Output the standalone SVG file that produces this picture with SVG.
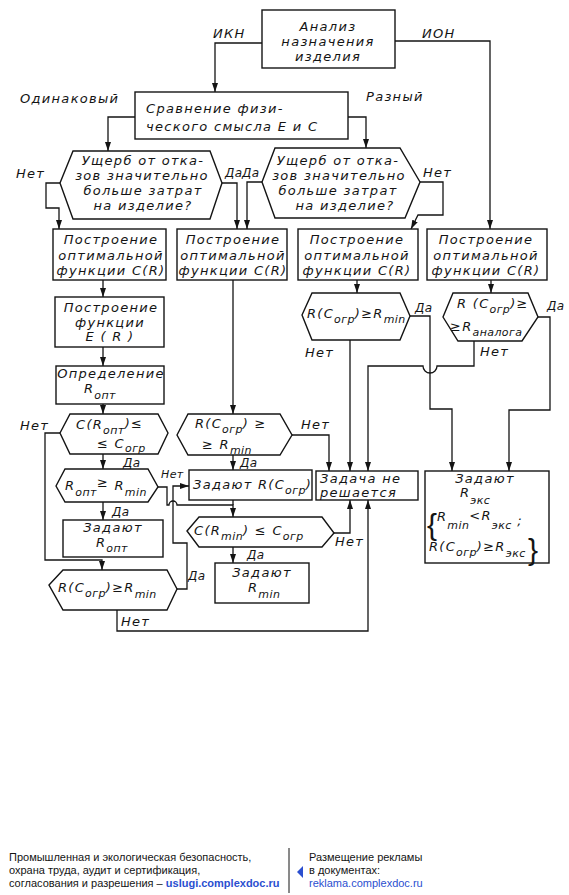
<svg xmlns="http://www.w3.org/2000/svg" width="569" height="895" viewBox="0 0 569 895">
<defs>
<marker id="a" markerWidth="9" markerHeight="6" refX="9" refY="3" orient="auto" markerUnits="userSpaceOnUse"><path d="M0,0 L9,3 L0,6 z" fill="#141414"/></marker>
<style>
.n rect,.n polygon{fill:none;stroke:#141414;stroke-width:1.4}
.c path{fill:none;stroke:#141414;stroke-width:1.3}
.arr{marker-end:url(#a)}
text{font-family:"DejaVu Sans",sans-serif;font-style:italic;font-size:13px;letter-spacing:1.3px;fill:#141414}
.m{text-anchor:middle}
.s{font-size:11px;letter-spacing:0.4px}
.l{font-size:12px;letter-spacing:0.3px}
.br{font-family:"Liberation Sans",Arial,sans-serif;font-style:normal;font-size:30px;letter-spacing:0}
.f{font-family:"Liberation Sans",Arial,sans-serif;font-style:normal;font-size:11px;letter-spacing:0}
.b{font-weight:bold}
.u{fill:#2b4fd0}
</style>
</defs>
<rect width="569" height="895" fill="#fff"/>

<g class="c">
<path class="arr" d="M262,43 H215 V92"/>
<path class="arr" d="M395,41 H490 V229"/>
<path class="arr" d="M135,117 H108 V151"/>
<path class="arr" d="M348,117 H366 V148"/>
<path class="arr" d="M60,183 H46 V208 H59 V229"/>
<path class="arr" d="M222,183 H237 V229"/>
<path class="arr" d="M262,182 H247 V229"/>
<path class="arr" d="M420,182 H443 V215 H418 L411,229"/>
<path class="arr" d="M103,280 V297"/>
<path class="arr" d="M103,347 V366"/>
<path class="arr" d="M103,404 V414"/>
<path class="arr" d="M233,280 V414"/>
<path class="arr" d="M357,280 V293"/>
<path class="arr" d="M491,280 V293"/>
<path class="arr" d="M60,433 H45 V560 H102 V570"/>
<path class="arr" d="M103,454 V469"/>
<path class="arr" d="M103,502 V520"/>
<path class="arr" d="M158,487 H167 V505 H169 A4,4 0 0 1 177,505 H233 V517"/>
<path d="M233,500 V505"/>
<path class="arr" d="M177,589 H187 V543 H173 V486 H189"/>
<path class="arr" d="M292,435 H329 V471"/>
<path class="arr" d="M233,455 V470"/>
<path class="arr" d="M334,533 H350 V500"/>
<path class="arr" d="M233,547 V563"/>
<path class="arr" d="M117,610 V631 H368 V500"/>
<path class="arr" d="M350,340 V471"/>
<path class="arr" d="M410,316 H430 V409 H452 V471"/>
<path class="arr" d="M474,341 V366 H437 A7,7 0 0 1 423,366 H368 V471"/>
<path class="arr" d="M538,317 H550 V410 H509 V471"/>
<text x="213" y="38">ИКН</text>
<text x="422" y="38">ИОН</text>
<text x="20" y="103">Одинаковый</text>
<text x="366" y="101">Разный</text>
<text x="16" y="178">Нет</text>
<text class="l" x="225" y="177">Да</text>
<text class="l" x="242" y="177">Да</text>
<text x="423" y="177">Нет</text>
<text class="l" x="415" y="312">Да</text>
<text class="l" x="547" y="310">Да</text>
<text x="305" y="357">Нет</text>
<text x="480" y="356">Нет</text>
<text x="20" y="430">Нет</text>
<text class="l" x="123" y="467">Да</text>
<text class="l" x="112" y="516">Да</text>
<text class="s" x="161" y="478">Нет</text>
<text x="301" y="429">Нет</text>
<text class="l" x="240" y="467">Да</text>
<text x="335" y="546">Нет</text>
<text class="l" x="247" y="559">Да</text>
<text class="l" x="188" y="580">Да</text>
<text x="121" y="626">Нет</text>
</g>

<g id="n1" class="n"><rect x="262" y="10" width="133" height="58"/>
<text class="m" x="328" y="31">Анализ</text><text class="m" x="328" y="46">назначения</text><text class="m" x="328" y="61">изделия</text></g>

<g id="n2" class="n"><rect x="135" y="92" width="213" height="47"/>
<text x="146" y="113">Сравнение физи-</text><text x="146" y="131">ческого смысла E и C</text></g>

<g id="n3" class="n"><polygon points="60,183 73,151 210,151 222,183 210,219 73,219"/>
<text class="m" x="143" y="165">Ущерб от отка-</text><text class="m" x="142" y="180" letter-spacing="1">зов значительно</text><text class="m" x="143" y="195">больше затрат</text><text class="m" x="143" y="210">на изделие?</text></g>

<g id="n4" class="n"><polygon points="262,182 275,148 400,148 420,182 405,218 275,218"/>
<text class="m" x="338" y="165">Ущерб от отка-</text><text class="m" x="339" y="180" letter-spacing="1">зов значительно</text><text class="m" x="338" y="195">больше затрат</text><text class="m" x="345" y="210">на изделие?</text></g>

<g id="n5" class="n"><rect x="53" y="229" width="113" height="51"/>
<text class="m" x="111" y="244">Построение</text><text class="m" x="111" y="260">оптимальной</text><text class="m" x="111" y="275">функции C(R)</text></g>

<g id="n6" class="n"><rect x="177" y="229" width="110" height="51"/>
<text class="m" x="233" y="244">Построение</text><text class="m" x="233" y="260">оптимальной</text><text class="m" x="233" y="275">функции C(R)</text></g>

<g id="n7" class="n"><rect x="298" y="229" width="120" height="51"/>
<text class="m" x="357" y="244">Построение</text><text class="m" x="357" y="260">оптимальной</text><text class="m" x="357" y="275">функции C(R)</text></g>

<g id="n8" class="n"><rect x="427" y="229" width="120" height="51"/>
<text class="m" x="486" y="244">Построение</text><text class="m" x="486" y="260">оптимальной</text><text class="m" x="486" y="275">функции C(R)</text></g>

<g id="n9" class="n"><rect x="55" y="297" width="109" height="50"/>
<text class="m" x="111" y="312">Построение</text><text class="m" x="110" y="327">функции</text><text class="m" x="110" y="341">E ( R )</text></g>

<g id="n10" class="n"><rect x="56" y="366" width="108" height="38"/>
<text class="m" x="111" y="378" letter-spacing="1">Определение</text><text x="84" y="393">R<tspan class="s" dy="6">опт</tspan></text></g>

<g id="n11" class="n"><polygon points="60,433 70,414 158,414 168,433 158,454 70,454"/>
<text x="76" y="429" letter-spacing="0.8">C(R<tspan class="s" dy="5">опт</tspan><tspan dy="-6">)≤</tspan></text>
<text x="97" y="448" letter-spacing="0.8">≤ C<tspan class="s" dy="4">огр</tspan></text></g>

<g id="n12" class="n"><polygon points="56,486 65,469 148,469 158,487 148,502 65,502"/>
<text x="65" y="490" letter-spacing="0.5">R<tspan class="s" dy="6">опт</tspan><tspan dy="-9">≥</tspan><tspan dy="3"> R</tspan><tspan class="s" dy="6">min</tspan></text></g>

<g id="n13" class="n"><rect x="63" y="520" width="100" height="37"/>
<text class="m" x="113" y="532">Задают</text><text x="96" y="547">R<tspan class="s" dy="5">опт</tspan></text></g>

<g id="n14" class="n"><polygon points="49,585 63,570 167,570 177,589 167,610 63,610"/>
<text x="58" y="592" letter-spacing="0.5">R(C<tspan class="s" dy="5">огр</tspan><tspan dy="-5">)≥R</tspan><tspan class="s" dy="6">min</tspan></text></g>

<g id="n15" class="n"><polygon points="177,435 188,414 280,414 292,435 280,455 188,455"/>
<text x="195" y="428" letter-spacing="0.8">R(C<tspan class="s" dy="5">огр</tspan><tspan dy="-5">) ≥</tspan></text>
<text x="202" y="449" letter-spacing="0.8">≥ R<tspan class="s" dy="5">min</tspan></text></g>

<g id="n16" class="n"><rect x="189" y="470" width="123" height="30"/>
<text x="193" y="489" letter-spacing="0.3">Задают R(C<tspan class="s" dy="5">огр</tspan><tspan dy="-5">)</tspan></text></g>

<g id="n17" class="n"><polygon points="187,531 199,517 322,517 334,533 322,547 199,547"/>
<text x="194" y="535" letter-spacing="0.8">C(R<tspan class="s" dy="5">min</tspan><tspan dy="-5">) ≤ C</tspan><tspan class="s" dy="5">огр</tspan></text></g>

<g id="n18" class="n"><rect x="215" y="563" width="94" height="40"/>
<text class="m" x="262" y="577">Задают</text><text x="248" y="592">R<tspan class="s" dy="6">min</tspan></text></g>

<g id="n19" class="n"><polygon points="302,315 312,293 400,293 410,316 400,340 312,340"/>
<text x="307" y="318" letter-spacing="0.3">R(C<tspan class="s" dy="5">огр</tspan><tspan dy="-5">)≥R</tspan><tspan class="s" dy="5">min</tspan></text></g>

<g id="n20" class="n"><polygon points="443,317 453,293 528,293 538,317 522,341 458,341"/>
<text x="457" y="308" letter-spacing="0.5">R (C<tspan class="s" dy="5">огр</tspan><tspan dy="-5">)≥</tspan></text>
<text x="450" y="331" letter-spacing="0.3">≥R<tspan class="s" dy="5" letter-spacing="0">аналога</tspan></text></g>

<g id="n21" class="n"><rect x="316" y="471" width="102" height="29"/>
<text x="320" y="483" font-size="12" letter-spacing="2">Задача не</text><text x="320" y="497" font-size="11" letter-spacing="1">решается</text></g>

<g id="n22" class="n"><rect x="425" y="471" width="124" height="92"/>
<text class="m" x="485" y="483">Задают</text>
<text x="460" y="497">R<tspan class="s" dy="7">экс</tspan></text>
<text class="br" x="427" y="535">{</text>
<text x="437" y="521" letter-spacing="0.3">R<tspan class="s" dy="8">min</tspan><tspan dy="-9">&lt;R</tspan><tspan class="s" dy="9">экс</tspan><tspan dy="-4"> ;</tspan></text>
<text x="429" y="551" letter-spacing="0.2">R(C<tspan class="s" dy="5">огр</tspan><tspan dy="-5">)≥R</tspan><tspan class="s" dy="6">экс</tspan></text>
<text class="br" x="528" y="560">}</text></g>

<g id="footer">
<line x1="289" y1="848" x2="289" y2="893" stroke="#141414" stroke-width="1"/>
<polygon points="303,866 303,878 297,872" fill="#2b4fd0"/>
<text class="f" x="9" y="861">Промышленная и экологическая безопасность,</text>
<text class="f" x="9" y="874">охрана труда, аудит и сертификация,</text>
<text class="f" x="9" y="887">согласования и разрешения – <tspan class="b u">uslugi.complexdoc.ru</tspan></text>
<text class="f" x="309" y="861">Размещение рекламы</text>
<text class="f" x="309" y="874">в документах:</text>
<text class="f u" x="309" y="887">reklama.complexdoc.ru</text>
</g>
</svg>
